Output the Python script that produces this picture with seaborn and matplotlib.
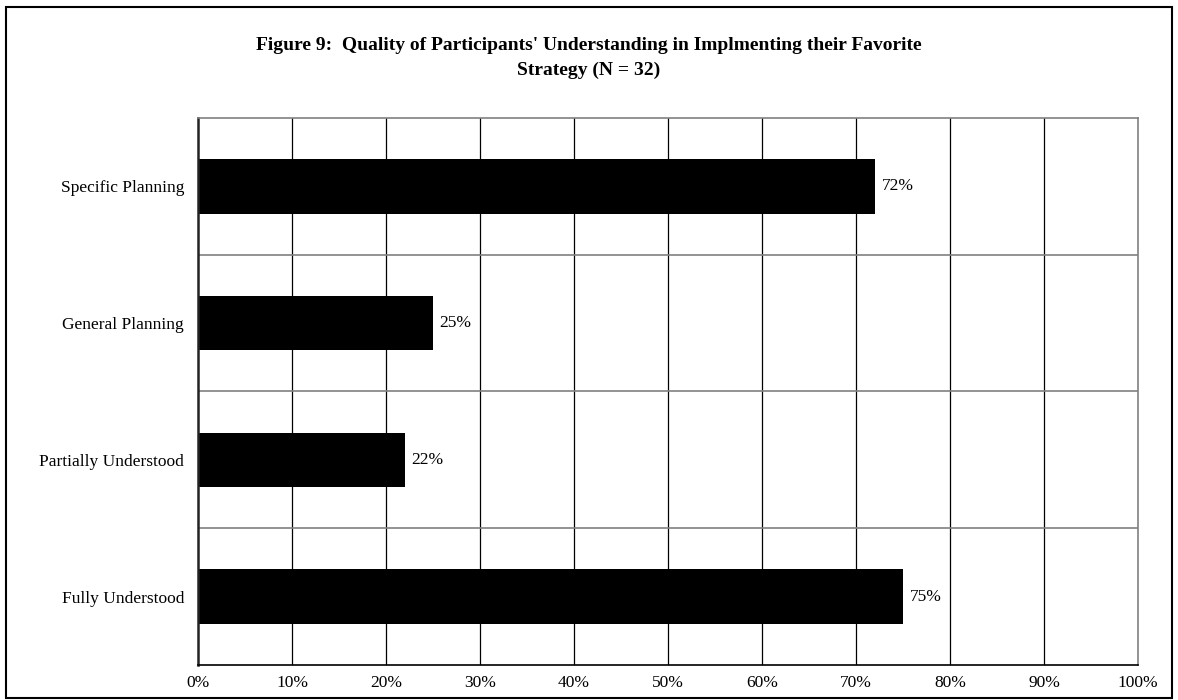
import matplotlib
matplotlib.use("Agg")
import matplotlib.pyplot as plt
import matplotlib.patches as mpatches
import seaborn as sns
import pandas as pd

# Chart data
categories = ["Specific Planning", "General Planning", "Partially Understood", "Fully Understood"]
percent = [72, 25, 22, 75]
x_ticks = list(range(0, 101, 10))


def main():
    sns.set_style("white")
    plt.rcParams["font.family"] = ["Liberation Serif", "DejaVu Serif"]
    plt.rcParams["text.color"] = "black"
    plt.rcParams["xtick.labelcolor"] = "black"
    plt.rcParams["ytick.labelcolor"] = "black"

    df = pd.DataFrame({"category": categories, "percent": percent})

    fig = plt.figure(figsize=(11.78, 7.0), dpi=100)
    ax = fig.add_axes([198 / 1178, 1 - 665 / 700, 940 / 1178, (665 - 118) / 700])

    sns.barplot(data=df, x="percent", y="category", order=categories, color="black",
                width=0.4, saturation=1, edgecolor="black", linewidth=0, ax=ax, zorder=3)

    ax.set_xlim(0, 100)
    ax.set_ylim(3.5, -0.5)
    ax.set_xticks(x_ticks)
    ax.set_xticklabels([f"{t}%" for t in x_ticks], fontsize=12.5, color="black")
    ax.set_xlabel("")
    ax.set_ylabel("")

    # category labels in the middle of each band, ticks on the band edges
    ax.set_yticks([-0.5, 0.5, 1.5, 2.5, 3.5])
    ax.set_yticklabels([])
    ax.set_yticks(range(len(categories)), minor=True)
    ax.set_yticklabels(categories, minor=True, fontsize=12.5, color="black")
    ax.tick_params(axis="y", which="minor", length=0, pad=10)
    ax.tick_params(axis="y", which="major", direction="out", length=5, width=1, color="#555555")
    ax.tick_params(axis="x", direction="out", length=4, width=1, color="black", pad=3)

    for xv in x_ticks[1:-1]:
        ax.axvline(xv, color="black", lw=0.9, zorder=1)
    for yv in [0.5, 1.5, 2.5]:
        ax.axhline(yv, color="#808080", lw=1.2, zorder=1)

    for side in ["top", "right"]:
        ax.spines[side].set_color("#808080")
        ax.spines[side].set_linewidth(1.2)
    ax.spines["left"].set_color("#222222")
    ax.spines["left"].set_linewidth(1.8)
    ax.spines["bottom"].set_color("black")
    ax.spines["bottom"].set_linewidth(1.2)
    for sp in ax.spines.values():
        sp.set_zorder(4)

    for i, v in enumerate(percent):
        ax.text(v + 0.7, i, f"{v}%", va="center", ha="left", fontsize=12.5, color="black")

    fig.text(0.5, 1 - 45 / 700, "Figure 9:  Quality of Participants' Understanding in Implmenting their Favorite",
             ha="center", va="center", fontsize=14, fontweight="bold", color="black")
    fig.text(0.5, 1 - 70 / 700, "Strategy (N = 32)",
             ha="center", va="center", fontsize=14, fontweight="bold", color="black")

    border = mpatches.Rectangle((6 / 1178, 2 / 700), 1166 / 1178, 691 / 700, transform=fig.transFigure,
                                fill=False, edgecolor="black", lw=1.5)
    fig.patches.append(border)

    fig.savefig("out.png", dpi=100)


main()
